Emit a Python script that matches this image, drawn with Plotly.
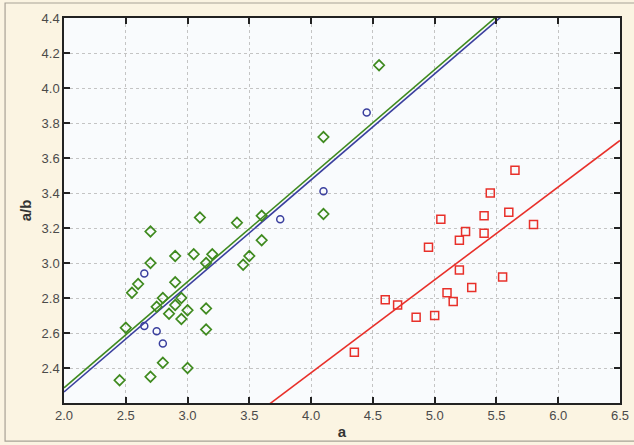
import plotly.graph_objects as go

# Green diamonds
green_x = [3.1, 2.7, 3.4, 3.6, 3.6, 2.9, 3.05, 3.2, 3.15, 3.45, 3.5, 2.7, 2.6, 2.55, 2.9,
           2.8, 2.95, 2.75, 2.9, 2.85, 3.0, 2.95, 3.15, 3.15, 2.5, 2.8, 3.0, 2.7, 2.45,
           4.1, 4.1, 4.55]
green_y = [3.26, 3.18, 3.23, 3.27, 3.13, 3.04, 3.05, 3.05, 3.0, 2.99, 3.04, 3.0, 2.88, 2.83, 2.89,
           2.8, 2.8, 2.75, 2.76, 2.71, 2.73, 2.68, 2.74, 2.62, 2.63, 2.43, 2.4, 2.35, 2.33,
           3.72, 3.28, 4.13]

# Blue circles
blue_x = [2.65, 2.65, 2.75, 2.8, 3.75, 4.1, 4.45]
blue_y = [2.94, 2.64, 2.61, 2.54, 3.25, 3.41, 3.86]

# Red squares
red_x = [4.35, 4.6, 4.7, 4.85, 4.95, 5.0, 5.05, 5.1, 5.15, 5.2, 5.2, 5.25, 5.3, 5.4, 5.4,
         5.45, 5.55, 5.6, 5.65, 5.8]
red_y = [2.49, 2.79, 2.76, 2.69, 3.09, 2.7, 3.25, 2.83, 2.78, 3.13, 2.96, 3.18, 2.86, 3.27, 3.17,
         3.4, 2.92, 3.29, 3.53, 3.22]

# Fit lines (slope, intercept)
green_fit = [0.606, 1.075]
blue_fit = [0.606, 1.051]
red_fit = [0.531, 0.249]

x_range = [2.0, 6.5]
y_range = [2.2, 4.4]
x_ticks = [2.0, 2.5, 3.0, 3.5, 4.0, 4.5, 5.0, 5.5, 6.0, 6.5]
y_ticks = [2.4, 2.6, 2.8, 3.0, 3.2, 3.4, 3.6, 3.8, 4.0, 4.2, 4.4]

GREEN = "#3f8a1f"
BLUE = "#3a3f9e"
RED = "#e8302a"

def fit_line(fit):
    xs = [x_range[0], x_range[1]]
    ys = [fit[0] * x + fit[1] for x in xs]
    return xs, ys

fig = go.Figure()

for fit, col in [(red_fit, RED), (blue_fit, BLUE), (green_fit, GREEN)]:
    lx, ly = fit_line(fit)
    fig.add_trace(go.Scatter(x=lx, y=ly, mode="lines", line=dict(color=col, width=1.6),
                             showlegend=False, hoverinfo="skip"))

fig.add_trace(go.Scatter(x=green_x, y=green_y, mode="markers",
                         marker=dict(symbol="diamond-open", size=8, color=GREEN,
                                     line=dict(width=1.7, color=GREEN)), showlegend=False))
fig.add_trace(go.Scatter(x=blue_x, y=blue_y, mode="markers",
                         marker=dict(symbol="circle-open", size=7, color=BLUE,
                                     line=dict(width=1.5, color=BLUE)), showlegend=False))
fig.add_trace(go.Scatter(x=red_x, y=red_y, mode="markers",
                         marker=dict(symbol="square-open", size=8, color=RED,
                                     line=dict(width=1.5, color=RED)), showlegend=False))

axis_common = dict(
    showline=True, linecolor="#222", linewidth=1.5, mirror="ticks",
    ticks="inside", ticklen=6, tickwidth=1.5, tickcolor="#222",
    showgrid=True, gridcolor="#c4c4c4", gridwidth=1, griddash="dot",
    zeroline=False, automargin=False,
    tickfont=dict(family="Liberation Sans, Arial, sans-serif", size=13, color="#4a4a4a"),
)

fig.update_xaxes(range=x_range, tickvals=x_ticks, ticktext=[f"{v:.1f}" for v in x_ticks],
                 title=dict(text="<b>a</b>", font=dict(family="Liberation Sans, Arial, sans-serif",
                                                      size=15, color="#333"), standoff=4),
                 **axis_common)
fig.update_yaxes(range=y_range, tickvals=y_ticks, ticktext=[f"{v:.1f}" for v in y_ticks],
                 title=dict(text="<b>a/b</b>", font=dict(family="Liberation Sans, Arial, sans-serif",
                                                        size=15, color="#333"), standoff=6),
                 **axis_common)

fig.add_shape(type="rect", xref="paper", yref="paper", x0=-0.106, x1=1.1, y0=-0.099, y1=1.039,
              line=dict(color="#a8a296", width=1.2), fillcolor="rgba(0,0,0,0)", layer="below")

fig.update_layout(
    width=634, height=445,
    margin=dict(l=64, r=14, t=18, b=42),
    paper_bgcolor="#fbf4e2",
    plot_bgcolor="#f9fbfd",
    showlegend=False,
)

fig.write_html("out.html", config={"displayModeBar": False},
               post_script="document.body.style.margin='0';document.body.style.overflow='hidden';")
